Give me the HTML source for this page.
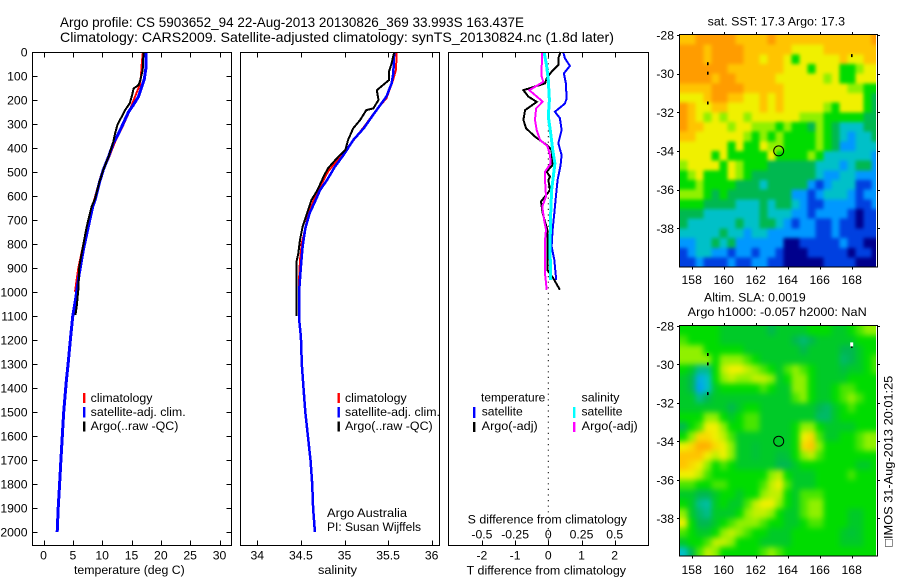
<!DOCTYPE html>
<html lang="en">
<head>
<meta charset="utf-8">
<title>Argo profile chart</title>
<style>
html,body{margin:0;padding:0;background:#fff;}
svg{display:block;}
text{font-family:"Liberation Sans",Arial,sans-serif;font-size:12.2px;fill:#000;}
.ttl{font-size:14px;}
.ln{fill:none;stroke-linejoin:miter;shape-rendering:crispEdges;}
.frame{fill:none;stroke:#000;stroke-width:1;shape-rendering:crispEdges;}
</style>
</head>
<body>
<svg id="chart" xmlns="http://www.w3.org/2000/svg" width="900" height="580" viewBox="0 0 900 580">
<rect x="0" y="0" width="900" height="580" fill="#fff"/>
<defs>
<clipPath id="clipMap1"><rect x="680" y="34.5" width="196" height="232.5"/></clipPath>
<clipPath id="clipMap2"><rect x="680" y="326" width="196" height="230"/></clipPath>
<filter id="blurSst" x="-5%" y="-5%" width="110%" height="110%" color-interpolation-filters="sRGB"><feGaussianBlur stdDeviation="1.8"/></filter>
<filter id="blurSla" x="-5%" y="-5%" width="110%" height="110%" color-interpolation-filters="sRGB"><feGaussianBlur stdDeviation="3"/></filter>
</defs>

<text class="ttl" x="60" y="27" textLength="464" lengthAdjust="spacingAndGlyphs">Argo profile: CS 5903652_94 22-Aug-2013 20130826_369 33.993S 163.437E</text>
<text class="ttl" x="60" y="42" textLength="554" lengthAdjust="spacingAndGlyphs">Climatology: CARS2009. Satellite-adjusted climatology: synTS_20130824.nc (1.8d later)</text>

<g clip-path="url(#clipMap1)"><g id="layerMap1" filter="url(#blurSst)"></g></g>
<g clip-path="url(#clipMap2)"><g id="layerMap2" filter="url(#blurSla)"></g></g>
<g id="layerMarks"></g>
<g id="layerAxes"></g>

<rect class="frame" x="32.5" y="52.5" width="199" height="493"/>
<rect class="frame" x="240.5" y="52.5" width="199" height="493"/>
<rect class="frame" x="448.5" y="52.5" width="200" height="493"/>
<rect class="frame" x="679.5" y="34.5" width="198" height="232.5"/>
<rect class="frame" x="679.5" y="325.5" width="198" height="230.5"/>

<text x="74" y="574" textLength="110.7" lengthAdjust="spacingAndGlyphs">temperature (deg C)</text>
<text x="318" y="574" textLength="39" lengthAdjust="spacingAndGlyphs">salinity</text>
<text x="466.7" y="574.3" textLength="159.3" lengthAdjust="spacingAndGlyphs">T difference from climatology</text>
<text x="467.7" y="523.3" textLength="159.3" lengthAdjust="spacingAndGlyphs">S difference from climatology</text>

<g>
<rect x="83" y="393" width="2.4" height="10" fill="#f00"/>
<rect x="83" y="407" width="2.4" height="10.5" fill="#00f"/>
<rect x="83" y="421.5" width="2.4" height="10" fill="#000"/>
<text x="90.7" y="402" textLength="61.7" lengthAdjust="spacingAndGlyphs">climatology</text>
<text x="90.7" y="416" textLength="95" lengthAdjust="spacingAndGlyphs">satellite-adj. clim.</text>
<text x="90.7" y="430" textLength="87.7" lengthAdjust="spacingAndGlyphs">Argo(..raw -QC)</text>
</g>
<g>
<rect x="337.5" y="393" width="2.4" height="10" fill="#f00"/>
<rect x="337.5" y="407" width="2.4" height="10.5" fill="#00f"/>
<rect x="337.5" y="421.5" width="2.4" height="10" fill="#000"/>
<text x="345" y="402" textLength="61.7" lengthAdjust="spacingAndGlyphs">climatology</text>
<text x="345" y="416" textLength="95" lengthAdjust="spacingAndGlyphs">satellite-adj. clim.</text>
<text x="345" y="430" textLength="87.7" lengthAdjust="spacingAndGlyphs">Argo(..raw -QC)</text>
<text x="327" y="517" textLength="80" lengthAdjust="spacingAndGlyphs">Argo Australia</text>
<text x="327" y="531" textLength="94" lengthAdjust="spacingAndGlyphs">PI: Susan Wijffels</text>
</g>
<g>
<text x="481" y="401.7" textLength="64.3" lengthAdjust="spacingAndGlyphs">temperature</text>
<text x="581.5" y="401.7" textLength="38" lengthAdjust="spacingAndGlyphs">salinity</text>
<rect x="473" y="407" width="2.4" height="11" fill="#00f"/>
<rect x="473" y="422" width="2.4" height="10" fill="#000"/>
<rect x="573" y="407" width="2.4" height="11" fill="#0ff"/>
<rect x="573" y="422" width="2.4" height="10" fill="#f0f"/>
<text x="481.7" y="415.7" textLength="41" lengthAdjust="spacingAndGlyphs">satellite</text>
<text x="481.7" y="430" textLength="56" lengthAdjust="spacingAndGlyphs">Argo(-adj)</text>
<text x="581.5" y="415.7" textLength="41" lengthAdjust="spacingAndGlyphs">satellite</text>
<text x="581.7" y="430" textLength="56" lengthAdjust="spacingAndGlyphs">Argo(-adj)</text>
</g>

<text x="707.7" y="25.5" textLength="137.3" lengthAdjust="spacingAndGlyphs">sat. SST: 17.3 Argo: 17.3</text>
<text x="704" y="301.7" textLength="101.7" lengthAdjust="spacingAndGlyphs">Altim. SLA: 0.0019</text>
<text x="687.7" y="316" textLength="179" lengthAdjust="spacingAndGlyphs">Argo h1000: -0.057 h2000: NaN</text>
<text transform="translate(892.5,546.7) rotate(-90)" textLength="171" lengthAdjust="spacingAndGlyphs" style="font-family:'Liberation Sans','DejaVu Sans',sans-serif">□IMOS 31-Aug-2013 20:01:25</text>
</svg>

<script>
/* ---------- tick arrays ---------- */
const depthTicks = [0,100,200,300,400,500,600,700,800,900,1000,1100,1200,1300,1400,1500,1600,1700,1800,1900,2000];
const tempTicks = [0,5,10,15,20,25,30];
const salTicks = [34,34.5,35,35.5,36];
const salTickLabels = ['34','34.5','35','35.5','36'];
const tDiffTicks = [-2,-1,0,1,2];
const sDiffTicks = [-0.5,-0.25,0,0.25,0.5];
const sDiffTickLabels = ['-0.5','-0.25','0','0.25','0.5'];
const lonTicks = [158,160,162,164,166,168];
const latTicks = [-28,-30,-32,-34,-36,-38];

/* ---------- temperature profiles ---------- */
const tempClimDepth = [0,47,103,138,186,255,304,374,443,506,575,617,700,800,901,999];
const tempClimValue = [16.94,16.76,16.6,16.4,15.6,14.5,13.6,12.2,11.1,9.9,9.1,8.65,7.7,6.8,5.94,5.37];
const tempSatDepth = [0,60,115,145,186,221,249,297,339,380,436,491,547,616,644,728,825,922,1019,1103,1172,1197,1300,1367,1500,1600,1700,1800,1900,2000];
const tempSatValue = [17.5,17.5,17.16,16.76,16.2,15.3,14.5,13.6,12.8,11.9,11.1,10.2,9.5,8.8,8.38,7.64,6.79,6.1,5.54,4.97,4.68,4.58,4.2,3.9,3.45,3.2,2.97,2.74,2.5,2.33];
const tempArgoDepth = [0,75,117,138,152,180,214,242,276,304,339,374,436,491,540,610,644,728,825,894,992,1061,1096];
const tempArgoValue = [17.05,16.9,16.5,16.2,15.35,15.1,14.7,13.9,13.2,12.6,12.2,11.9,11.1,10.2,9.55,8.8,8.2,7.36,6.62,6.1,5.94,5.66,5.43];

/* ---------- salinity profiles ---------- */
const salClimDepth = [0,75,124,193,214,249,304,360,401,436,499,561,575,624,679,735,797,867,936,1000];
const salClimValue = [35.6,35.59,35.55,35.48,35.43,35.35,35.24,35.12,35.03,34.95,34.81,34.72,34.7,34.64,34.58,34.55,34.51,34.49,34.48,34.48];
const salSatDepth = [0,89,131,186,221,261,318,367,429,478,533,575,624,672,735,811,894,992,1117,1186,1300,1400,1500,1600,1700,1800,1900,2000];
const salSatValue = [35.57,35.56,35.54,35.48,35.41,35.33,35.22,35.1,34.99,34.89,34.8,34.72,34.66,34.6,34.55,34.52,34.5,34.48,34.48,34.5,34.51,34.53,34.55,34.58,34.61,34.63,34.64,34.66];
const salArgoDepth = [0,47,82,117,138,159,200,235,242,283,318,367,408,436,485,519,575,617,672,728,783,839,874,1100];
const salArgoValue = [35.57,35.54,35.51,35.51,35.44,35.37,35.39,35.33,35.25,35.18,35.1,35.04,35.01,34.93,34.81,34.76,34.69,34.62,34.57,34.52,34.49,34.47,34.45,34.45];

/* ---------- difference profiles ---------- */
const dTSatDepth = [0,26,58,89,131,194,215,249,276,325,380,429,471,533,602,672,741,811,866,936,950];
const dTSatValue = [0.45,0.5,0.65,0.47,0.53,0.55,0.5,0.2,0.35,0.4,0.3,0.4,0.37,0.28,0.23,0.18,0.13,0.1,0.18,0.23,0.23];
const dTArgoDepth = [0,26,54,82,110,131,159,186,208,228,242,283,318,353,387,408,471,499,519,533,575,602,623,672,707,741,908,943,991];
const dTArgoValue = [0.37,0.3,0.3,0.1,-0.05,-0.1,-0.75,-0.6,-0.35,-0.55,-0.7,-0.75,-0.67,-0.4,-0.05,0.1,0.13,-0.05,0.05,0,0.05,-0.1,-0.22,-0.17,-0.1,-0.03,-0.03,0.15,0.35];
const dSSatDepth = [0,61,117,200,269,339,408,464,519,575,672,811,950];
const dSSatValue = [-0.032,-0.012,0,0.008,0,0.018,0.033,0.05,0.038,0.025,0.018,0.013,0.018];
const dSArgoDepth = [0,61,103,124,145,159,179,207,235,283,325,367,392,429,464,499,533,602,644,700,741,783,922,991];
const dSArgoValue = [-0.045,-0.05,-0.05,-0.038,-0.1,-0.143,-0.1,-0.042,-0.092,-0.1,-0.087,-0.062,-0.007,0.013,0.018,-0.025,-0.025,-0.017,-0.045,-0.032,-0.017,-0.025,-0.025,-0.012];

/* ---------- map cells: colour level per 0.5 degree cell, north to south ---------- */
const sstRows = [
[8,8,9,9,9,9,9,8,8,8,8,9,8,8,8,8,8,8,8,8,8,8,8,8,9],
[9,9,9,8,9,9,9,9,8,8,8,8,8,8,7,7,7,7,8,8,8,8,8,8,8],
[9,9,9,8,9,9,9,9,8,8,7,8,8,7,5,7,7,7,7,7,8,7,7,8,8],
[9,9,9,9,9,9,8,8,8,8,8,8,8,7,7,7,5,7,7,7,5,5,6,7,7],
[9,9,9,9,8,9,9,8,8,8,8,8,7,7,7,7,7,7,6,7,5,5,7,7,7],
[8,8,8,8,9,9,9,9,8,8,8,8,8,7,7,7,7,7,7,7,7,6,6,5,5],
[7,7,7,8,9,9,8,8,7,7,8,7,8,7,7,7,7,7,7,7,7,7,7,5,4],
[9,8,7,7,8,8,7,7,7,7,8,7,8,7,7,7,7,7,6,5,7,7,7,5,4],
[9,8,7,6,7,6,7,7,6,7,7,7,7,7,7,6,6,6,5,5,5,5,5,4,4],
[9,8,8,7,7,7,6,7,7,6,6,6,5,6,5,5,4,6,5,4,3,3,3,4,4],
[8,8,7,7,7,7,7,7,6,5,6,5,6,5,5,5,5,6,5,4,3,2,3,3,4],
[7,7,7,7,7,7,5,7,5,5,7,6,6,5,5,5,5,6,5,4,2,2,3,3,3],
[7,7,7,7,5,7,5,5,5,5,5,7,5,5,5,5,6,5,3,3,3,3,3,3,2],
[6,7,7,7,7,5,7,6,5,5,5,4,4,4,4,4,4,3,3,3,2,3,4,4,2],
[5,6,7,5,5,5,7,6,5,4,4,4,4,4,4,4,4,3,2,2,3,3,2,2,2],
[5,5,6,5,5,5,5,4,4,4,3,4,4,4,4,4,2,1,2,3,3,3,1,1,2],
[6,6,6,5,4,5,4,4,4,4,4,4,4,4,2,2,1,2,3,3,3,2,1,2,2],
[5,5,5,4,4,4,4,3,3,3,4,3,4,4,3,2,1,1,2,2,2,2,1,1,2],
[4,4,4,3,3,3,3,3,3,3,4,3,3,3,2,2,1,2,2,2,2,1,0,1,1],
[4,3,3,3,3,3,3,4,3,3,4,4,3,2,1,2,2,1,1,2,1,1,0,1,1],
[3,3,3,3,3,4,3,3,2,3,3,2,2,2,2,2,2,1,1,2,1,1,1,1,1],
[2,2,3,3,4,3,4,2,2,2,2,2,2,0,0,1,1,1,1,1,2,1,1,0,0],
[1,2,3,3,2,2,1,2,2,1,2,2,1,0,0,0,1,1,1,1,1,0,1,1,0],
[1,1,2,1,1,1,2,1,1,2,2,1,1,0,0,0,0,0,1,1,1,1,0,0,0]
];
const slaRows = [
[5,5,5,5,5,4.5,4.5,4.5,4.5,4.5,4.5,4,4.5,4.5,4.5,4.5,5,5,5,4.5,4.5,5,5.5,6,6],
[5.5,5,5,5,5,4.5,4.5,4.5,4.5,4.5,4.5,4.5,4.5,4.5,4,3.7,4,4.5,4.5,4.5,4.5,4.5,5,5,5],
[6,6,6,5,5,5,5,5,4.5,4.5,4.5,4.5,4.5,4.5,4.5,4,4.5,4.5,4.5,4.5,4,4,4.5,5,5],
[6,6,6,6,5,6,6,6,5.5,5,4.5,4.5,4.5,4.5,4.5,4.5,4.5,4.5,4.5,4.5,3.8,4,4.5,5,5.5],
[5,4.5,3.5,3.5,5,6.5,7,7,6.5,6,5.5,5,4.5,5.5,6,5.5,5,4.5,4.5,4.5,4.2,4.5,4.5,5,5.5],
[4.5,4,2.5,3,5,6,6.5,6,6,6.5,6.5,6,4.5,5,6,6,5,4.5,4.5,4.5,4.5,5,5,5,5],
[4.5,4,2.2,3,4.5,5,5,5,5,5,5.5,5,4.5,4.5,6,6,5,4.5,4.5,5,5.5,5.5,5,5,5],
[4.5,4.5,3.5,4,4.5,4.5,4.5,4.5,4.5,4.5,4.5,4.5,4.5,4.5,5.5,6,5,4.5,4.5,5,5.5,6,5.5,5,5],
[4.5,4.5,4.5,4.5,4.5,4.5,4,4.5,5,5,4.5,4.5,4.5,4.5,4.5,4.5,4.5,4,3.8,4.5,5,5.5,5,5,5],
[5,5,5,6,6,5,4.5,5,5.5,5.5,4.5,4.5,4.5,4.5,4.5,4.5,4.5,3.8,3.8,4.5,5,5,5,5,5],
[4,5,5.5,7,7,6,5,5,5.5,5.5,4.5,4.5,4.5,4.5,5,6,6,5,4.5,4.5,4.5,4.5,5,5,5],
[5,6,7.5,7.5,7,6.5,5.5,4.5,4.5,4.5,4.5,4.5,4.5,4.5,5,7,7.5,5.5,4.5,4.5,5,5,5.5,6,6],
[7,7.5,8.5,8.5,7.5,7,6,4.5,4.5,4.3,4.5,4.5,4.5,4.5,5,7.5,8,6,5,5,5,5,5.5,6,6],
[8,8,8,7,6.5,7,6,4.5,4.5,4.3,4.5,4.5,4.2,4.3,5,6,6.5,5.5,5,5,5,5,5,5,5],
[8,7.5,7,6,5,5.5,5,4.5,4.5,4.5,4.5,4.5,4,4,4.5,5,5,5,5,5,5,5,4.5,4.5,5],
[7,7,6.5,5.5,5,5,5,5,5,5,5,6,6.5,5,4.5,4.5,4.5,5,5,5,5,5.5,5,5,5],
[5.5,5.5,5,5,5.5,5.5,5,5,5,5,5.5,6.5,7,5.5,4.5,4.5,4.5,5,5,5,5,5,5,5,5],
[4.5,4.5,4,4,4.5,5,5,4.5,5,5,6,6.5,6.5,5,4.5,5.5,5.5,5.5,5,5,5,5,5,5,5],
[5,4.5,3.5,3.3,4.5,5,4.5,4.5,5.5,6.5,7,7,6,5,4.5,5.5,6,6,5,5,5,5,5,5,5],
[6,4.5,3.8,3.5,4.5,4.5,4.5,5,6,6.5,6.5,6,5,4.5,4.5,5.5,6,6,5,5,5,4.5,4.5,5,5],
[7,5,4,4,4.5,5,5.5,6,6,6,5.5,5,5,4.5,4.5,5,5.5,5.5,5,5,5,4.5,4.5,5,5],
[5.5,5,4.5,4.5,5,6,6.5,6,5.5,5,5,4.5,4.5,4.5,5,5,5,5,5,5,4.5,4.3,4.5,5,5],
[4.5,5,5,5.5,6.5,6.5,6,5,5,5,4.5,4.5,4.5,4.5,5,5,5,5,5,5,4.5,4.5,4.5,5,5],
[3,4,5.5,6.5,6,5,5,5,5,5,5.5,6,5.5,5,5,5,5,5,5,5,5,5,5,5,5]
];
const islandLons = [159,159,159,168];
const islandLats = [-29.49,-29.98,-31.52,-29.07];
const floatLon = 163.437;
const floatLat = -33.993;

/* ---------- axis functions ---------- */
const SVGNS = 'http://www.w3.org/2000/svg';
const yDepth = d => 52 + 0.24 * d;
const xTemp = t => 43.5 + 5.867 * t;
const xSal = s => 257.3 + 87.2 * (s - 34);
const xDT = t => 548.3 + 33.2 * t;
const xDS = s => 548.3 + 132.8 * s;
const xLon = l => 691.7 + 16 * (l - 158);
const yLat1 = l => 151 + 19.35 * (-34 - l);
const yLat2 = l => 441.3 + 19.25 * (-34 - l);

const palette = [[0,0,140],[0,64,224],[0,152,255],[0,192,200],[0,184,80],[0,220,0],[144,240,0],[240,240,0],[255,196,0],[255,156,0]];
function levelColor(v){
  const lo = Math.max(0, Math.min(8, Math.floor(v)));
  const f = Math.max(0, Math.min(1, v - lo));
  const a = palette[lo], b = palette[lo + 1];
  return 'rgb(' + a.map((c, i) => Math.round(c + (b[i] - c) * f)).join(',') + ')';
}

const axes = document.getElementById('layerAxes');
const marks = document.getElementById('layerMarks');

function tickLine(x1, y1, x2, y2){
  const el = document.createElementNS(SVGNS, 'line');
  
  
  el.setAttribute('x1', x1); el.setAttribute('y1', y1);
  el.setAttribute('x2', x2); el.setAttribute('y2', y2);
  el.setAttribute('stroke', '#000');
  el.setAttribute('shape-rendering', 'crispEdges');
  axes.appendChild(el);
}
function tickLabel(str, x, y, anchor){
  const el = document.createElementNS(SVGNS, 'text');
  
  
  el.setAttribute('x', x); el.setAttribute('y', y);
  el.setAttribute('text-anchor', anchor);
  el.textContent = str;
  axes.appendChild(el);
}
function profile(name, depths, values, xf, color, width){
  const el = document.createElementNS(SVGNS, 'polyline');
  
  
  el.setAttribute('class', 'ln');
  el.setAttribute('stroke', color);
  el.setAttribute('stroke-width', width);
  el.setAttribute('points', depths.map((d, i) => xf(values[i]).toFixed(1) + ',' + yDepth(d).toFixed(1)).join(' '));
  marks.appendChild(el);
}
function heatmap(rows, layerId, yf, name){
  const layer = document.getElementById(layerId);
  const nr = rows.length, nc = rows[0].length;
  /* cells beyond the frame repeat the edge value so smoothing does not fade at the clip */
  for (let r = -3; r < nr + 3; r++) {
    for (let c = -3; c < nc + 3; c++) {
      const v = rows[Math.max(0, Math.min(nr - 1, r))][Math.max(0, Math.min(nc - 1, c))];
      const lon = 157.225 + 0.5 * c;
      const lat = -28 - 0.5 * r;
      const el = document.createElementNS(SVGNS, 'rect');
      
      
      el.setAttribute('x', xLon(lon).toFixed(1));
      el.setAttribute('y', yf(lat).toFixed(1));
      el.setAttribute('width', (xLon(lon + 0.5) - xLon(lon) + 0.6).toFixed(1));
      el.setAttribute('height', (yf(lat - 0.5) - yf(lat) + 0.6).toFixed(1));
      el.setAttribute('fill', levelColor(v));
      el.setAttribute('shape-rendering', 'crispEdges');
      layer.appendChild(el);
    }
  }
}
function mapOverlay(yf, isSla){
  islandLons.forEach((lon, i) => {
    const el = document.createElementNS(SVGNS, 'rect');
    
    
    el.setAttribute('x', (xLon(lon) - 0.7).toFixed(1));
    el.setAttribute('y', (yf(islandLats[i]) - 1.5).toFixed(1));
    el.setAttribute('width', 1.6);
    el.setAttribute('height', 3);
    el.setAttribute('fill', '#000');
    marks.appendChild(el);
  });
  if (isSla) {
    const w = document.createElementNS(SVGNS, 'rect');
    
    
    w.setAttribute('x', xLon(168) - 1.5);
    w.setAttribute('y', yf(-29.07) - 4);
    w.setAttribute('width', 3);
    w.setAttribute('height', 4);
    w.setAttribute('fill', '#fff');
    marks.appendChild(w);
  }
  const c = document.createElementNS(SVGNS, 'circle');
  
  
  c.setAttribute('cx', xLon(floatLon).toFixed(1));
  c.setAttribute('cy', yf(floatLat).toFixed(1));
  c.setAttribute('r', 5);
  c.setAttribute('fill', 'none');
  c.setAttribute('stroke', '#000');
  c.setAttribute('stroke-width', 1);
  marks.appendChild(c);
}

/* ---------- draw heatmaps ---------- */
heatmap(sstRows, 'layerMap1', yLat1, 'sst-cell');
heatmap(slaRows, 'layerMap2', yLat2, 'sla-cell');
mapOverlay(yLat1, false);
mapOverlay(yLat2, true);

/* ---------- draw profiles ---------- */
profile('temperature-climatology-line', tempClimDepth, tempClimValue, xTemp, '#f00', 2);
profile('temperature-satellite-line', tempSatDepth, tempSatValue, xTemp, '#00f', 3);
profile('temperature-argo-line', tempArgoDepth, tempArgoValue, xTemp, '#000', 2);
profile('salinity-climatology-line', salClimDepth, salClimValue, xSal, '#f00', 2);
profile('salinity-satellite-line', salSatDepth, salSatValue, xSal, '#00f', 2.5);
profile('salinity-argo-line', salArgoDepth, salArgoValue, xSal, '#000', 2);

const zero = document.createElementNS(SVGNS, 'line');


zero.setAttribute('x1', xDT(0)); zero.setAttribute('x2', xDT(0));
zero.setAttribute('y1', 52); zero.setAttribute('y2', 545);
zero.setAttribute('stroke', '#000');
zero.setAttribute('stroke-dasharray', '1.2 4.4');
marks.appendChild(zero);

profile('t-diff-satellite-line', dTSatDepth, dTSatValue, xDT, '#00f', 2);
profile('t-diff-argo-line', dTArgoDepth, dTArgoValue, xDT, '#000', 2);
profile('s-diff-satellite-line', dSSatDepth, dSSatValue, xDS, '#0ff', 3);
profile('s-diff-argo-line', dSArgoDepth, dSArgoValue, xDS, '#f0f', 2);

/* ---------- ticks ---------- */
depthTicks.forEach(d => {
  const y = Math.round(yDepth(d)) + 0.5;
  tickLine(32.5, y, 37.5, y);
  tickLine(226.5, y, 231.5, y);
  tickLabel(String(d), 27.5, yDepth(d) + 4.5, 'end');
});
tempTicks.forEach(t => {
  const x = Math.round(xTemp(t)) + 0.5;
  tickLine(x, 52.5, x, 57.5);
  tickLine(x, 540.5, x, 545.5);
  tickLabel(String(t), xTemp(t), 559.3, 'middle');
});
salTicks.forEach((s, i) => {
  const x = Math.round(xSal(s)) + 0.5;
  tickLine(x, 52.5, x, 57.5);
  tickLine(x, 540.5, x, 545.5);
  tickLabel(salTickLabels[i], xSal(s), 559.3, 'middle');
});
tDiffTicks.forEach(t => {
  const x = Math.round(xDT(t)) + 0.5;
  tickLine(x, 52.5, x, 57.5);
  tickLine(x, 540.5, x, 545.5);
  tickLabel(String(t), xDT(t), 559.3, 'middle');
});
sDiffTicks.forEach((s, i) => {
  tickLabel(sDiffTickLabels[i], xDS(s), 538.3, 'middle');
});
lonTicks.forEach(l => {
  const x = Math.round(xLon(l)) + 0.5;
  tickLine(x, 32, x, 34.5);
  tickLine(x, 267, x, 269.5);
  tickLine(x, 323, x, 325.5);
  tickLine(x, 556, x, 558.5);
  tickLabel(String(l), xLon(l), 284, 'middle');
  tickLabel(String(l), xLon(l), 574, 'middle');
});
latTicks.forEach(l => {
  const y1 = Math.round(yLat1(l)) + 0.5;
  const y2 = Math.round(yLat2(l)) + 0.5;
  tickLine(677, y1, 679.5, y1);
  tickLine(877.5, y1, 880, y1);
  tickLine(677, y2, 679.5, y2);
  tickLine(877.5, y2, 880, y2);
  tickLabel(String(l), 674, yLat1(l) + 4.5, 'end');
  tickLabel(String(l), 674, yLat2(l) + 4.5, 'end');
});
</script>
</body>
</html>
